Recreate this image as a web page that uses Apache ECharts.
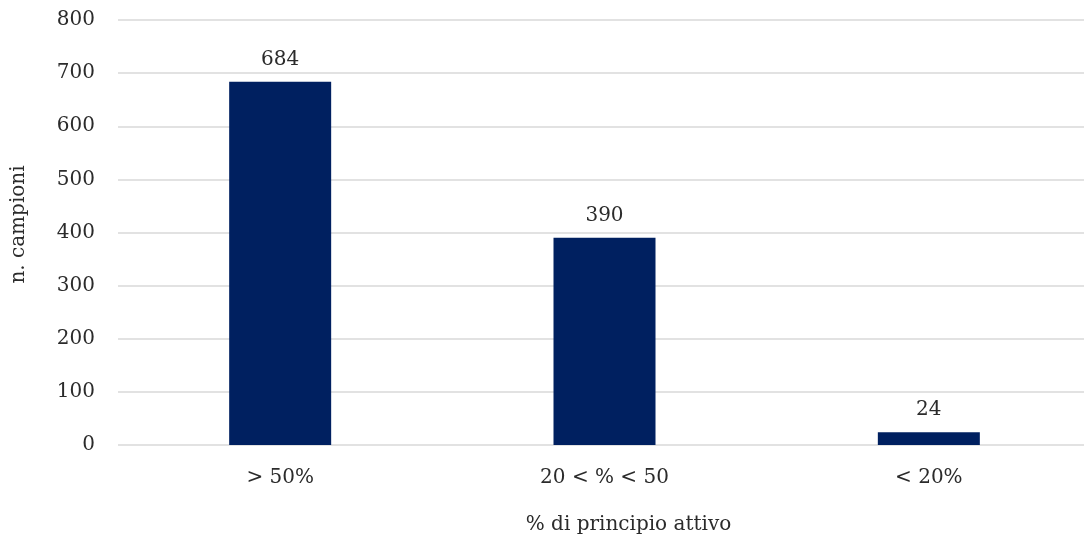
<!DOCTYPE html>
<html><head><meta charset="utf-8">
<script src="https://cdn.jsdelivr.net/npm/echarts@6/dist/echarts.min.js"></script>
<style>html,body{margin:0;padding:0;background:#fff}#c{width:1084px;height:540px}</style>
</head><body><div id="c"></div>
<script>
const categories = ['> 50%', '20 < % < 50', '< 20%'];
const values = [684, 390, 24];
const yTicks = { min: 0, max: 800, interval: 100 };
const FONT = 'DejaVu Serif';
const FS = 20;
const TXT = '#2b2b2b';
const chart = echarts.init(document.getElementById('c'), null, { renderer: 'canvas' });
chart.setOption({
  animation: false,
  backgroundColor: '#ffffff',
  textStyle: { fontFamily: FONT },
  grid: { left: 118, right: -7, top: 20, bottom: 95, containLabel: false, outerBoundsMode: 'none' },
  xAxis: {
    type: 'category', data: categories,
    axisLine: { show: false }, axisTick: { show: false },
    axisLabel: { color: TXT, fontSize: FS, fontFamily: FONT, margin: 23 },
    name: '% di principio attivo', nameLocation: 'middle', nameGap: 70,
    nameTextStyle: { color: TXT, fontSize: FS, fontFamily: FONT, padding: [0, 0, 0, 48] }
  },
  yAxis: {
    type: 'value', min: yTicks.min, max: yTicks.max, interval: yTicks.interval,
    axisLine: { show: false }, axisTick: { show: false },
    splitLine: { lineStyle: { color: '#d9d9d9', width: 1.5 } },
    axisLabel: { color: TXT, fontSize: FS, fontFamily: FONT, margin: 23 },
    name: 'n. campioni', nameLocation: 'middle', nameGap: 89,
    nameTextStyle: { color: TXT, fontSize: FS, fontFamily: FONT, padding: [0, 0, 0, 16] }
  },
  series: [{
    type: 'bar', data: values, barWidth: 102,
    itemStyle: { color: '#002060' },
    label: { show: true, position: 'top', distance: 12, color: TXT, fontSize: FS, fontFamily: FONT }
  }]
});
</script></body></html>
